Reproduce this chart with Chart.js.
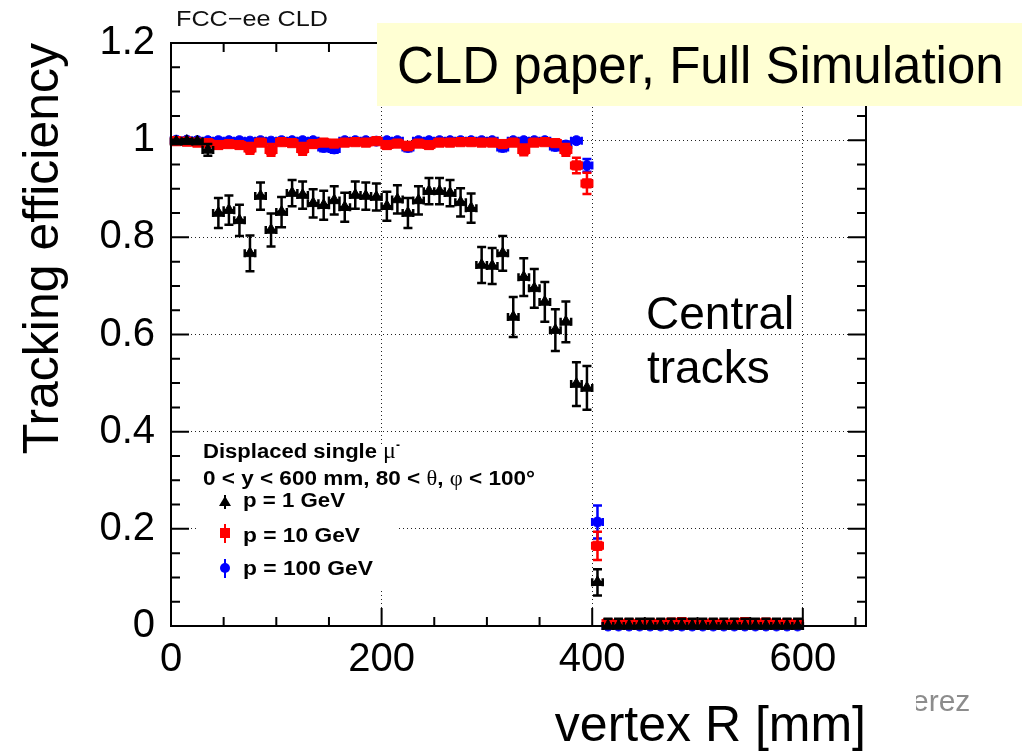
<!DOCTYPE html>
<html>
<head>
<meta charset="utf-8">
<script src="https://cdn.jsdelivr.net/npm/chart.js@4.4.1/dist/chart.umd.min.js"></script>
<style>
  html, body { margin: 0; padding: 0; background: #fff; }
  #wrap { position: relative; width: 1032px; height: 755px; overflow: hidden;
          font-family: "Liberation Sans", Arial, Helvetica, sans-serif; }
  #plot { position: absolute; left: 0; top: 0; }
  .txt { position: absolute; white-space: nowrap; line-height: 1; transform-origin: 0 0; color: #000; }
  .leg { font-weight: bold; font-size: 20px; }
  .sym { font-family: "Liberation Serif", "Times New Roman", serif; font-weight: normal; }
  #legbox { position: absolute; left: 197px; top: 447px; width: 201px; height: 143px; background: #fff; }
  .bar { position: absolute; width: 2px; }
  #banner { position: absolute; left: 377px; top: 23px; width: 645px; height: 83px; background: #ffffd3; }
</style>
</head>
<body>
<div id="wrap">
  <canvas id="plot" width="1032" height="755"></canvas>

  <div class="txt fit" data-w="152" style="left:176px; top:8px; font-size:22px; color:#111;">FCC&minus;ee CLD</div>

  <div id="banner"></div>
  <div class="txt" style="left:397px; top:40px; font-size:51px;">CLD paper, Full Simulation</div>

  <div class="txt" style="left:646px; top:290px; font-size:46px;">Central</div>
  <div class="txt" style="left:647px; top:344px; font-size:46px;">tracks</div>

  <div style="position:absolute; left:916px; top:680px; width:80px; height:40px; overflow:hidden;">
    <div class="txt" style="left:-4px; top:6px; font-size:30px; color:#8c8c8c;">erez</div>
  </div>

  <div id="legbox"></div>
  <div class="txt leg fit" data-w="174" style="left:203px; top:441px;">Displaced single</div>
  <div class="txt sym" style="left:383px; top:438px; font-size:24px;">&mu;<sup style="font-size:12px; font-family:'Liberation Sans'; font-weight:bold;">-</sup></div>
  <div class="txt leg fit" data-w="332" style="left:203px; top:468px;">0 &lt; y &lt; 600 mm, 80 &lt; <span class="sym">&theta;</span>, <span class="sym">&phi;</span> &lt; 100&deg;</div>
  <div class="txt leg fit" data-w="102" style="left:243px; top:490px;">p = 1 GeV</div>
  <div class="txt leg fit" data-w="117" style="left:243px; top:525px;">p = 10 GeV</div>
  <div class="txt leg fit" data-w="130" style="left:243px; top:558px;">p = 100 GeV</div>

  <!-- legend symbols -->
  <div class="bar" style="left:224px; top:495px; height:14px; background:#000;"></div>
  <div style="position:absolute; left:219px; top:496px; width:0; height:0; border-left:6px solid transparent; border-right:6px solid transparent; border-bottom:10px solid #000;"></div>
  <div class="bar" style="left:224px; top:524px; height:19px; background:#f00;"></div>
  <div style="position:absolute; left:220px; top:528px; width:10px; height:10px; background:#f00;"></div>
  <div class="bar" style="left:224px; top:559px; height:19px; background:#00f;"></div>
  <div style="position:absolute; left:220px; top:563px; width:10px; height:10px; border-radius:50%; background:#00f;"></div>
</div>

<script>
// vertex R bin centres [mm], 10 mm wide bins
const binCenters = [
  5, 15, 25, 35, 45, 55, 65, 75, 85, 95,
  105, 115, 125, 135, 145, 155, 165, 175, 185, 195,
  205, 215, 225, 235, 245, 255, 265, 275, 285, 295,
  305, 315, 325, 335, 345, 355, 365, 375, 385, 395,
  405, 415, 425, 435, 445, 455, 465, 475, 485, 495,
  505, 515, 525, 535, 545, 555, 565, 575, 585, 595
];
const binHalfWidth = 5;

// p = 1 GeV
const eff1GeV = [
  0.997, 0.998, 0.997, 0.980, 0.850, 0.856, 0.835, 0.767, 0.885, 0.815,
  0.852, 0.891, 0.887, 0.870, 0.866, 0.876, 0.862, 0.887, 0.885, 0.883,
  0.864, 0.878, 0.850, 0.876, 0.895, 0.895, 0.891, 0.872, 0.860, 0.743,
  0.741, 0.767, 0.636, 0.718, 0.695, 0.667, 0.609, 0.626, 0.498, 0.490,
  0.090, 0, 0, 0, 0, 0, 0, 0, 0, 0,
  0, 0, 0, 0, 0, 0, 0, 0, 0, 0
];
const err1GeV = [
  0.004, 0.004, 0.004, 0.012, 0.031, 0.030, 0.032, 0.037, 0.028, 0.034,
  0.031, 0.027, 0.028, 0.029, 0.030, 0.029, 0.030, 0.028, 0.028, 0.028,
  0.030, 0.029, 0.031, 0.029, 0.027, 0.027, 0.027, 0.029, 0.030, 0.037,
  0.037, 0.036, 0.041, 0.039, 0.040, 0.041, 0.043, 0.042, 0.045, 0.045,
  0.027, 0.015, 0.015, 0.015, 0.015, 0.015, 0.015, 0.015, 0.015, 0.015,
  0.015, 0.015, 0.015, 0.015, 0.015, 0.015, 0.015, 0.015, 0.015, 0.015
];

// p = 10 GeV
const eff10GeV = [
  0.998, 0.997, 0.995, 0.994, 0.990, 0.992, 0.990, 0.983, 0.995, 0.980,
  0.996, 0.994, 0.982, 0.992, 0.995, 0.993, 0.995, 0.996, 0.995, 0.998,
  0.990, 0.993, 0.988, 0.993, 0.990, 0.995, 0.995, 0.996, 0.996, 0.995,
  0.995, 0.992, 0.995, 0.980, 0.995, 0.996, 0.994, 0.980, 0.948, 0.911,
  0.165, 0.006, 0.005, 0.006, 0.004, 0.006, 0.005, 0.007, 0.008, 0.006,
  0.005, 0.006, 0.004, 0.006, 0.008, 0.006, 0.007, 0.005, 0.006, 0.005
];
const err10GeV = [
  0.004, 0.004, 0.005, 0.006, 0.007, 0.006, 0.007, 0.011, 0.005, 0.012,
  0.005, 0.006, 0.012, 0.007, 0.005, 0.006, 0.005, 0.005, 0.005, 0.004,
  0.007, 0.006, 0.008, 0.006, 0.007, 0.005, 0.005, 0.005, 0.005, 0.005,
  0.005, 0.007, 0.005, 0.011, 0.005, 0.005, 0.006, 0.012, 0.016, 0.022,
  0.029, 0.004, 0.004, 0.004, 0.004, 0.004, 0.004, 0.004, 0.004, 0.004,
  0.004, 0.004, 0.004, 0.004, 0.004, 0.004, 0.004, 0.004, 0.004, 0.004
];

// p = 100 GeV
const eff100GeV = [
  1.000, 1.000, 0.999, 0.999, 0.999, 0.999, 0.999, 0.998, 0.999, 0.998,
  0.999, 0.999, 0.999, 0.999, 0.985, 0.982, 0.999, 0.999, 0.999, 0.998,
  0.999, 0.999, 0.985, 0.999, 0.999, 0.999, 0.999, 0.999, 0.999, 0.999,
  0.999, 0.985, 0.999, 0.999, 0.999, 0.999, 0.987, 0.990, 0.999, 0.948,
  0.214, 0, 0, 0, 0, 0, 0, 0, 0, 0,
  0, 0, 0, 0, 0, 0, 0, 0, 0, 0
];
const err100GeV = [
  0.003, 0.003, 0.003, 0.003, 0.003, 0.003, 0.003, 0.003, 0.003, 0.003,
  0.003, 0.003, 0.003, 0.003, 0.008, 0.008, 0.003, 0.003, 0.003, 0.003,
  0.003, 0.003, 0.008, 0.003, 0.003, 0.003, 0.003, 0.003, 0.003, 0.003,
  0.003, 0.008, 0.003, 0.003, 0.003, 0.003, 0.008, 0.007, 0.003, 0.013,
  0.034, 0.002, 0.002, 0.002, 0.002, 0.002, 0.002, 0.002, 0.002, 0.002,
  0.002, 0.002, 0.002, 0.002, 0.002, 0.002, 0.002, 0.002, 0.002, 0.002
];

const xTicks = [0, 200, 400, 600];
const yTicks = [0, 0.2, 0.4, 0.6, 0.8, 1, 1.2];
const xRange = [0, 660];
const yRange = [0, 1.2];
const xMinorStep = 50;
const yMinorStep = 0.05;

function points(values) {
  return binCenters.map((r, i) => ({ x: r, y: values[i] }));
}

// vertical + bin-width error bars, drawn under each dataset's markers
const errorBars = {
  id: 'errorBars',
  beforeDatasetDraw(chart, args) {
    const ds = chart.data.datasets[args.index];
    if (!ds.errors) return;
    const { ctx, scales: { x, y } } = chart;
    ctx.save();
    ctx.strokeStyle = ds.borderColor;
    ctx.lineWidth = 2.5;
    ctx.beginPath();
    ds.data.forEach((p, i) => {
      const e = ds.errors[i];
      const px = x.getPixelForValue(p.x);
      const py = y.getPixelForValue(p.y);
      const hi = y.getPixelForValue(p.y + e);
      const lo = y.getPixelForValue(Math.max(0, p.y - e));
      const x0 = x.getPixelForValue(p.x - binHalfWidth);
      const x1 = x.getPixelForValue(p.x + binHalfWidth);
      ctx.moveTo(px, lo); ctx.lineTo(px, hi);
      ctx.moveTo(px - 4.5, hi); ctx.lineTo(px + 4.5, hi);
      ctx.moveTo(px - 4.5, lo); ctx.lineTo(px + 4.5, lo);
      ctx.moveTo(x0, py); ctx.lineTo(x1, py);
      ctx.moveTo(x0, py - 4); ctx.lineTo(x0, py + 4);
      ctx.moveTo(x1, py - 4); ctx.lineTo(x1, py + 4);
    });
    ctx.stroke();
    ctx.restore();
  }
};

// ROOT-style closed frame with inward ticks on all four sides
const frameTicks = {
  id: 'frameTicks',
  afterDraw(chart) {
    const { ctx, chartArea: a, scales: { x, y } } = chart;
    ctx.save();
    ctx.strokeStyle = '#000';
    ctx.lineWidth = 2;
    ctx.strokeRect(a.left, a.top, a.right - a.left, a.bottom - a.top);
    ctx.beginPath();
    for (let i = 0; i * xMinorStep < x.max; i++) {
      const px = x.getPixelForValue(i * xMinorStep);
      const len = i % 4 === 0 ? 18 : 9;
      ctx.moveTo(px, a.bottom); ctx.lineTo(px, a.bottom - len);
      ctx.moveTo(px, a.top); ctx.lineTo(px, a.top + len);
    }
    for (let i = 0; i * yMinorStep <= y.max + 1e-9; i++) {
      const py = y.getPixelForValue(i * yMinorStep);
      const len = i % 4 === 0 ? 18 : 9;
      ctx.moveTo(a.left, py); ctx.lineTo(a.left + len, py);
      ctx.moveTo(a.right, py); ctx.lineTo(a.right - len, py);
    }
    ctx.stroke();
    ctx.restore();
  }
};

const tickFont = { family: 'Liberation Sans', size: 40 };
const titleFont = { family: 'Liberation Sans', size: 50, lineHeight: 1 };
const plainNumber = (v) => String(Math.round(v * 100) / 100);

new Chart(document.getElementById('plot').getContext('2d'), {
  type: 'scatter',
  data: {
    datasets: [
      {
        label: 'p = 1 GeV',
        data: points(eff1GeV),
        errors: err1GeV,
        borderColor: '#000',
        backgroundColor: '#000',
        pointStyle: 'triangle',
        pointRadius: 6.5,
        pointBorderWidth: 1
      },
      {
        label: 'p = 10 GeV',
        data: points(eff10GeV),
        errors: err10GeV,
        borderColor: '#f00',
        backgroundColor: '#f00',
        pointStyle: 'rect',
        pointRadius: 6.5,
        pointBorderWidth: 1
      },
      {
        label: 'p = 100 GeV',
        data: points(eff100GeV),
        errors: err100GeV,
        borderColor: '#00f',
        backgroundColor: '#00f',
        pointStyle: 'circle',
        pointRadius: 5,
        pointBorderWidth: 1
      }
    ]
  },
  options: {
    responsive: false,
    animation: false,
    devicePixelRatio: 1,
    clip: false,
    layout: { padding: { left: 0, right: 166, top: 43, bottom: 0 } },
    plugins: {
      legend: { display: false },
      tooltip: { enabled: false }
    },
    scales: {
      x: {
        type: 'linear',
        min: xRange[0],
        max: xRange[1],
        afterBuildTicks: (s) => { s.ticks = xTicks.map((v) => ({ value: v })); },
        afterFit: (s) => { s.height = 129; },
        ticks: { font: tickFont, color: '#000', padding: 10, maxRotation: 0, callback: plainNumber },
        grid: { color: '#222', lineWidth: 1, drawTicks: false },
        border: { display: false, dash: [1, 3] },
        title: {
          display: true,
          text: 'vertex R [mm]',
          align: 'end',
          color: '#000',
          font: titleFont,
          padding: { top: 0, bottom: 3 }
        }
      },
      y: {
        type: 'linear',
        min: yRange[0],
        max: yRange[1],
        afterBuildTicks: (s) => { s.ticks = yTicks.map((v) => ({ value: v })); },
        afterFit: (s) => { s.width = 171; },
        ticks: { font: tickFont, color: '#000', padding: 16, callback: plainNumber },
        grid: { color: '#222', lineWidth: 1, drawTicks: false },
        border: { display: false, dash: [1, 3] },
        title: {
          display: true,
          text: 'Tracking efficiency',
          align: 'end',
          color: '#000',
          font: titleFont,
          padding: { top: 19, bottom: 0 }
        }
      }
    }
  },
  plugins: [errorBars, frameTicks]
});

// stretch the ROOT-style labels to their set widths
function fitLabels() {
  document.querySelectorAll('.fit').forEach((el) => {
    el.style.transform = 'none';
    const w = el.getBoundingClientRect().width;
    el.style.transform = 'scaleX(' + (Number(el.dataset.w) / w) + ')';
  });
}
fitLabels();
if (document.fonts) document.fonts.ready.then(fitLabels);
</script>
</body>
</html>
